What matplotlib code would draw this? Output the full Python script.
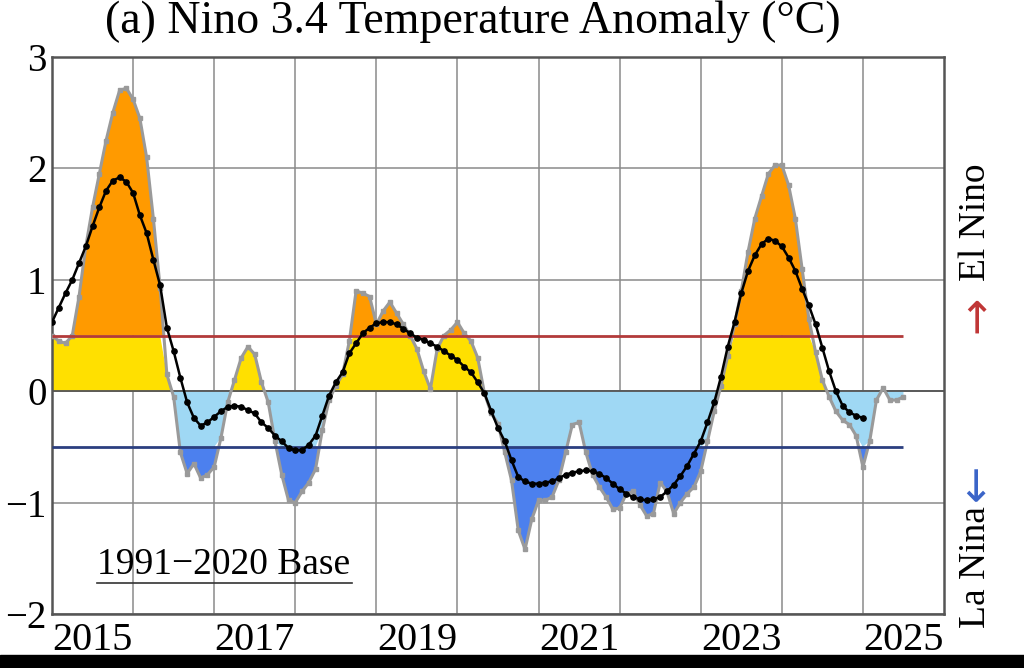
import numpy as np
import matplotlib
matplotlib.use("Agg")
import matplotlib.pyplot as plt
from matplotlib.patches import Rectangle

# Nino 3.4 anomaly, one value per month from Jan 2015 (gray curve)
nino34 = [
    0.50, 0.45, 0.43, 0.50, 0.85, 1.30, 1.65, 1.95, 2.25, 2.50, 2.70, 2.72,   # 2015
    2.62, 2.45, 2.10, 1.55, 0.93, 0.15, -0.05, -0.55, -0.74, -0.65, -0.78, -0.75,  # 2016
    -0.68, -0.42, -0.10, 0.10, 0.30, 0.40, 0.33, 0.08, -0.10, -0.45, -0.75, -0.98,  # 2017
    -1.00, -0.90, -0.82, -0.70, -0.35, -0.08, 0.05, 0.15, 0.45, 0.90, 0.88, 0.85,  # 2018
    0.60, 0.72, 0.80, 0.70, 0.60, 0.50, 0.38, 0.18, 0.02, 0.38, 0.50, 0.55,  # 2019
    0.62, 0.52, 0.45, 0.30, -0.02, -0.20, -0.29, -0.55, -0.80, -1.25, -1.42, -1.15,  # 2020
    -0.98, -0.98, -0.95, -0.80, -0.55, -0.30, -0.28, -0.55, -0.75, -0.86, -0.95, -1.06,  # 2021
    -1.05, -0.92, -0.90, -1.02, -1.12, -1.10, -0.82, -0.90, -1.10, -1.00, -0.92, -0.86,  # 2022
    -0.72, -0.45, -0.18, 0.05, 0.32, 0.60, 0.90, 1.25, 1.55, 1.75, 1.95, 2.03,  # 2023
    2.03, 1.85, 1.55, 1.10, 0.65, 0.35, 0.10, -0.05, -0.18, -0.26, -0.30, -0.40,  # 2024
    -0.68, -0.45, -0.08, 0.03, -0.08, -0.08, -0.05,  # 2025
]

# smoothed index (black dotted curve), monthly from Jan 2015
smoothed = [
    0.62, 0.75, 0.88, 1.00, 1.15, 1.30, 1.48, 1.65, 1.80, 1.89, 1.92, 1.88,
    1.78, 1.58, 1.42, 1.18, 0.95, 0.57, 0.36, 0.12, -0.10, -0.24, -0.31, -0.28,
    -0.23, -0.18, -0.14, -0.13, -0.14, -0.17, -0.20, -0.28, -0.33, -0.40, -0.45, -0.51,
    -0.53, -0.53, -0.48, -0.40, -0.22, -0.04, 0.08, 0.17, 0.34, 0.43, 0.52, 0.57,
    0.61, 0.62, 0.62, 0.60, 0.56, 0.52, 0.48, 0.46, 0.43, 0.40, 0.36, 0.32,
    0.28, 0.22, 0.17, 0.08, -0.02, -0.18, -0.33, -0.45, -0.62, -0.77, -0.81, -0.83,
    -0.83, -0.82, -0.81, -0.78, -0.75, -0.73, -0.72, -0.71, -0.72, -0.74, -0.78, -0.83,
    -0.88, -0.92, -0.95, -0.97, -0.98, -0.97, -0.95, -0.90, -0.84, -0.76, -0.67, -0.56,
    -0.45, -0.28, -0.10, 0.13, 0.40, 0.62, 0.88, 1.08, 1.22, 1.32, 1.37, 1.35,
    1.30, 1.20, 1.08, 0.92, 0.77, 0.60, 0.39, 0.18, 0.00, -0.13, -0.19, -0.22,
    -0.24,
]

start_year = 2015
year_ticks = [2015, 2017, 2019, 2021, 2023, 2025]
y_ticks = [-2, -1, 0, 1, 2, 3]
threshold = 0.5

g = np.array(nino34)
s = np.array(smoothed)
tg = start_year + np.arange(len(g)) / 12
ts = start_year + np.arange(len(s)) / 12

plt.rcParams['font.family'] = ['Liberation Serif', 'DejaVu Serif']

fig = plt.figure(figsize=(10.24, 6.68), dpi=100)
ax = fig.add_axes([52 / 1024, 1 - 614 / 668, (944 - 52) / 1024, (614 - 57) / 668])

# colored fills between thresholds
ax.fill_between(tg, g, threshold, where=g > threshold, interpolate=True,
                color='#FF9A00', lw=0, zorder=2)
ax.fill_between(tg, np.minimum(g, threshold), 0, where=g > 0, interpolate=True,
                color='#FFE000', lw=0, zorder=2)
ax.fill_between(tg, np.maximum(g, -threshold), 0, where=g < 0, interpolate=True,
                color='#9FD8F4', lw=0, zorder=2)
ax.fill_between(tg, g, -threshold, where=g < -threshold, interpolate=True,
                color='#4C80EE', lw=0, zorder=2)

ax.plot(tg, g, color='#9A9A9A', lw=2.2, marker='s', ms=2.5, zorder=3)

ax.hlines(threshold, start_year, 2025.5, color='#B23A3A', lw=2, zorder=3)
ax.hlines(-threshold, start_year, 2025.5, color='#2B3F80', lw=2, zorder=3)
ax.axhline(0, color='#555555', lw=1.3, zorder=2.5)

ax.plot(ts, s, color='black', lw=1.8, marker='o', ms=3.8, zorder=4)

ax.set_xlim(2015, 2026)
ax.set_ylim(-2, 3)
ax.set_xticks(range(2016, 2026))
ax.set_xticks([y + 0.5 for y in year_ticks], minor=True)
ax.set_xticklabels([str(y) for y in year_ticks], minor=True, fontsize=29)
ax.tick_params(axis='x', which='major', labelbottom=False, length=0)
ax.tick_params(axis='x', which='minor', length=0, pad=6)
ax.set_yticks(y_ticks)
ax.set_yticklabels([str(v).replace('-', '\u2212') for v in y_ticks], fontsize=28)
ax.tick_params(axis='y', length=0, pad=4)
ax.grid(True, which='major', color='#8A8A8A', lw=1.1, zorder=1)
ax.set_axisbelow(True)
for sp in ax.spines.values():
    sp.set_color('#555555')
    sp.set_linewidth(1.8)

ax.text(2015.55, -1.56, '1991\u22122020 Base', fontsize=27, va='center', ha='left', zorder=5)
ax.plot([2015.55, 2018.7], [-1.72, -1.72], color='#333333', lw=1.2, zorder=5)

fig.text(473 / 1024, 1 - 22 / 668, '(a) Nino 3.4 Temperature Anomaly (\u00b0C)',
         fontsize=33, ha='center', va='center')

# side labels
fig.text(976 / 1024, 1 - 222 / 668, 'El Nino', rotation=90, fontsize=27,
         ha='center', va='center')
fig.text(976 / 1024, 1 - 314 / 668, '\u2192', rotation=90, fontsize=32,
         ha='center', va='center', color='#C03535', family=['DejaVu Sans'])
fig.text(976 / 1024, 1 - 482 / 668, '\u2190', rotation=90, fontsize=32,
         ha='center', va='center', color='#3A64C8', family=['DejaVu Sans'])
fig.text(976 / 1024, 1 - 567 / 668, 'La Nina', rotation=90, fontsize=27,
         ha='center', va='center')

# black strip along the bottom of the screenshot
fig.add_artist(Rectangle((0, 0), 1, 13 / 668, transform=fig.transFigure,
                         color='black', zorder=10))

fig.savefig('out.png', dpi=100)
